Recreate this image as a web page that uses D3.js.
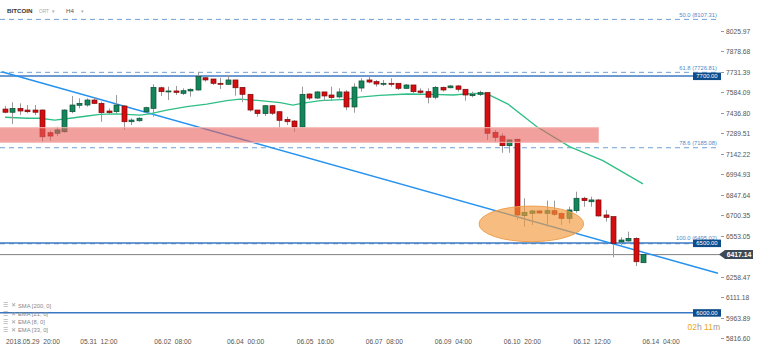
<!DOCTYPE html>
<html>
<head>
<meta charset="utf-8">
<script src="https://cdn.jsdelivr.net/npm/d3@7/dist/d3.min.js"></script>
<style>
body { margin: 0; background: #fff; }
text { font-family: "Liberation Sans", Arial, sans-serif; }
</style>
</head>
<body>
<div id="chart-area"></div>
<script>
// H4 candles, BITCOIN
var open = [7463,7440,7468,7456,7456,7456,7293,7289,7300,7444, 7490,7492,7528,7504,7449,7444,7485,7372,7379,7444,
    7468,7616,7586,7593,7576,7593,7600,7688,7679,7648, 7641,7672,7619,7569,7456,7430,7487,7444,7389,7377,
    7334,7571,7542,7586,7564,7550,7586,7478,7614,7672, 7660,7641,7648,7648,7612,7636,7593,7588,7548,7619,
    7616,7629,7605,7559,7569,7581,7296,7269,7200,7246, 6697,6714,6731,6714,6733,6714,6678,6733,6822,6797,
    6810,6702,6690,6508,6515,6534,6359];
var high = [7485,7512,7504,7492,7492,7461,7308,7336,7461,7557, 7540,7540,7545,7516,7468,7564,7492,7397,7404,7480,
    7641,7624,7624,7629,7612,7612,7731,7703,7679,7688, 7708,7672,7619,7569,7456,7492,7492,7444,7408,7384,
    7624,7576,7593,7586,7624,7612,7600,7648,7684,7696, 7672,7672,7684,7648,7643,7636,7612,7612,7629,7624,
    7636,7636,7605,7588,7595,7581,7313,7289,7246,7246, 6822,6738,6733,6805,6805,6718,6761,6869,6833,6833,
    6815,6738,6690,6542,6582,6542,6421];
var low = [7433,7356,7420,7433,7420,7228,7236,7269,7293,7433, 7468,7480,7499,7372,7428,7433,7313,7348,7372,7437,
    7408,7557,7528,7564,7564,7552,7595,7660,7636,7607, 7636,7559,7512,7444,7408,7413,7420,7329,7348,7300,
    7325,7528,7535,7523,7523,7540,7456,7437,7588,7648, 7624,7629,7624,7600,7607,7576,7571,7504,7533,7588,
    7612,7588,7523,7548,7557,7241,7228,7149,7149,6666, 6618,6630,6714,6618,6695,6630,6642,6718,6761,6761,
    6690,6654,6398,6486,6510,6335,6359];
var close = [7440,7468,7449,7444,7440,7264,7269,7313,7456,7492, 7504,7528,7504,7437,7437,7492,7372,7384,7397,7473,
    7619,7588,7593,7583,7595,7605,7696,7672,7648,7641, 7672,7616,7569,7456,7430,7487,7433,7382,7372,7334,
    7569,7542,7586,7557,7545,7586,7478,7621,7665,7657, 7643,7648,7641,7612,7636,7588,7583,7548,7619,7600,
    7629,7605,7564,7569,7581,7289,7260,7200,7241,6702, 6721,6731,6716,6733,6707,6678,6738,6822,6805,6810,
    6695,6685,6498,6522,6534,6366,6417.14];

// EMA line, read at some candles
var emaIdx = [0,3,4.7,6.7,8.8,11.1,12.8,15.1,18.2,19.5,21.8,24.5,27.2,29.9,31.7,34.4,37.1,38.8,40,42.5,
    46.1,47.8,50.5,54.2,57.7,60.4,63.1,65,67.8,71.7,76.1,80.6,86];
var emaVal = [7404,7397,7397,7384,7397,7413,7425,7428,7420,7428,7456,7480,7499,7523,7535,7523,7509,7492,7504,7523,
    7533,7548,7562,7571,7569,7564,7576,7572,7499,7336,7193,7092,6925];

// axis labels (6405.76 sits under the last price tag)
var priceTicks = ["8025.97","7878.68","7731.39","7584.09","7436.80","7289.51","7142.22","6994.93",
    "6847.64","6700.35","6553.05","6258.47","6111.18","5963.89","5816.60"];
var timeIdx = [0, 10, 20, 29.8, 39.2, 48.5, 57.8, 67.1, 76.5, 85.8];
var timeLabels = ["2018.05.29  20:00","05.31  12:00","06.02  08:00","06.04  00:00","06.05  16:00",
    "06.07  08:00","06.09  04:00","06.10  20:00","06.12  12:00","06.14  04:00"];

// drawings
var levelVals = [7700, 6500, 6000];
var fibNames = ["50.0", "61.8", "78.6", "100.0"];
var fibVals = [8107.31, 7726.81, 7185.08, 6495.02];
var trendIdx = [-0.45, 96.1];
var trendVal = [7731, 6283];
var zoneIdx = [-1, 80];
var zoneVal = [7224, 7329];
var ellipseIdx = [63.9, 78.0];
var ellipseVal = [6510, 6766];
var lastPrice = 6417.14;
var legendItems = ["SMA [200, 0]", "EMA [21, 0]", "EMA [8, 0]", "EMA [33, 0]"];

var width = 760, height = 353, plotRight = 720;

var svg = d3.select("#chart-area")
    .append("svg")
        .attr("width", width)
        .attr("height", height);

var x = d3.scaleLinear().domain([0, 86]).range([5, 643]);
var y = d3.scaleLinear().domain([5816.60, 8025.97]).range([338.2, 30.7]);

var plot = svg.append("g");

// fib dashed lines
plot.selectAll(".fib")
    .data(fibVals)
    .enter().append("line")
        .attr("x1", 0).attr("x2", plotRight)
        .attr("y1", function(d){ return y(d); })
        .attr("y2", function(d){ return y(d); })
        .attr("stroke", "#6fa0d6")
        .attr("stroke-width", 1)
        .attr("stroke-dasharray", "5,4");

// last price line
plot.append("line")
    .attr("x1", 0).attr("x2", plotRight)
    .attr("y1", y(lastPrice)).attr("y2", y(lastPrice))
    .attr("stroke", "#808080")
    .attr("stroke-width", 1);

// level lines
plot.selectAll(".level")
    .data(levelVals)
    .enter().append("line")
        .attr("x1", 0).attr("x2", plotRight)
        .attr("y1", function(d){ return y(d); })
        .attr("y2", function(d){ return y(d); })
        .attr("stroke", "#3b78c2")
        .attr("stroke-width", 1.5);

// trend line
plot.append("line")
    .attr("x1", x(trendIdx[0])).attr("y1", y(trendVal[0]))
    .attr("x2", x(trendIdx[1])).attr("y2", y(trendVal[1]))
    .attr("stroke", "#2592f0")
    .attr("stroke-width", 1.5);

// EMA
var emaLine = d3.line()
    .x(function(d){ return x(d); })
    .y(function(d, i){ return y(emaVal[i]); });
plot.append("path")
    .attr("d", emaLine(emaIdx))
    .attr("fill", "none")
    .attr("stroke", "#2fbf86")
    .attr("stroke-width", 1.3);

// candles
var candles = plot.selectAll(".candle")
    .data(close)
    .enter().append("g");

candles.append("line")
    .attr("x1", function(d, i){ return Math.round(x(i)) + 0.5; })
    .attr("x2", function(d, i){ return Math.round(x(i)) + 0.5; })
    .attr("y1", function(d, i){ return y(high[i]); })
    .attr("y2", function(d, i){ return y(low[i]); })
    .attr("stroke", "#9a9a9a")
    .attr("stroke-width", 1);

candles.append("rect")
    .attr("x", function(d, i){ return Math.round(x(i)) - 2; })
    .attr("width", 5)
    .attr("y", function(d, i){ return y(Math.max(open[i], d)); })
    .attr("height", function(d, i){ return Math.max(1, y(Math.min(open[i], d)) - y(Math.max(open[i], d))); })
    .attr("fill", function(d, i){ return d >= open[i] ? "#14865a" : "#d40d10"; })
    .attr("stroke", function(d, i){ return d >= open[i] ? "#0b4f35" : "#7c0a0a"; })
    .attr("stroke-width", 0.7);

// red zone
plot.append("rect")
    .attr("x", x(zoneIdx[0]))
    .attr("width", x(zoneIdx[1]) - x(zoneIdx[0]))
    .attr("y", y(zoneVal[1]))
    .attr("height", y(zoneVal[0]) - y(zoneVal[1]))
    .attr("fill", "#e8605c")
    .attr("fill-opacity", 0.6)
    .attr("stroke", "#f6b8b4")
    .attr("stroke-width", 1);

// ellipse
plot.append("ellipse")
    .attr("cx", (x(ellipseIdx[0]) + x(ellipseIdx[1])) / 2)
    .attr("cy", (y(ellipseVal[0]) + y(ellipseVal[1])) / 2)
    .attr("rx", (x(ellipseIdx[1]) - x(ellipseIdx[0])) / 2)
    .attr("ry", (y(ellipseVal[0]) - y(ellipseVal[1])) / 2)
    .attr("fill", "#f39a3c")
    .attr("fill-opacity", 0.65)
    .attr("stroke", "#f0a050")
    .attr("stroke-width", 1);

// fib labels
plot.selectAll(".fib-label")
    .data(fibVals)
    .enter().append("text")
        .attr("x", plotRight - 3)
        .attr("y", function(d, i){ return y(d) - (i === 3 ? 3.5 : 2.5); })
        .attr("text-anchor", "end")
        .attr("font-size", "5.8px")
        .attr("fill", "#4f8bc9")
        .text(function(d, i){ return fibNames[i] + " (" + d.toFixed(2) + ")"; });

// price axis
var yAxis = svg.append("g");
yAxis.selectAll(".tick")
    .data(priceTicks)
    .enter().append("g")
    .each(function(d){
        var g = d3.select(this);
        var py = Math.round(y(+d)) + 0.5;
        g.append("line")
            .attr("x1", 721).attr("x2", 724)
            .attr("y1", py).attr("y2", py)
            .attr("stroke", "#999");
        g.append("text")
            .attr("x", 726)
            .attr("y", py)
            .attr("dy", "0.35em")
            .attr("font-size", "6.7px")
            .attr("fill", "#555")
            .text(d);
    });

// level label boxes
var levelTags = svg.selectAll(".level-tag")
    .data(levelVals)
    .enter().append("g");
levelTags.append("rect")
    .attr("x", 693).attr("width", 28)
    .attr("y", function(d){ return y(d) - 3.5; })
    .attr("height", 7.5)
    .attr("fill", "#0f4c8a");
levelTags.append("text")
    .attr("x", 707)
    .attr("y", function(d){ return y(d) + 0.3; })
    .attr("dy", "0.35em")
    .attr("text-anchor", "middle")
    .attr("font-size", "5.9px")
    .attr("fill", "#fff")
    .text(function(d){ return d.toFixed(2); });

// last price tag
var ly = y(lastPrice);
svg.append("path")
    .attr("d", "M719," + ly + " L725," + (ly - 4.5) + " L753," + (ly - 4.5) +
        " L753," + (ly + 4.5) + " L725," + (ly + 4.5) + " Z")
    .attr("fill", "#3d4a55");
svg.append("text")
    .attr("x", 739).attr("y", ly)
    .attr("dy", "0.35em")
    .attr("text-anchor", "middle")
    .attr("font-size", "6.8px")
    .attr("font-weight", "bold")
    .attr("fill", "#fff")
    .text(lastPrice.toFixed(2));

// time axis
svg.selectAll(".time")
    .data(timeLabels)
    .enter().append("text")
        .attr("x", function(d, i){ return x(timeIdx[i]) + 1; })
        .attr("y", 343.5)
        .attr("font-size", "6.7px")
        .attr("fill", "#555")
        .attr("xml:space", "preserve")
        .style("white-space", "pre")
        .text(function(d){ return d; });

// header
var head = svg.append("g");
head.append("text").attr("x", 7).attr("y", 12.6)
    .attr("font-size", "6.2px").attr("font-weight", "bold").attr("fill", "#333")
    .text("BITCOIN");
head.append("text").attr("x", 39).attr("y", 12.6)
    .attr("font-size", "4.8px").attr("fill", "#aaa")
    .text("ORT");
head.append("text").attr("x", 52).attr("y", 12.6)
    .attr("font-size", "5px").attr("fill", "#aaa")
    .text("▾");
head.append("text").attr("x", 66).attr("y", 12.6)
    .attr("font-size", "6.2px").attr("fill", "#555")
    .text("H4");
head.append("text").attr("x", 81).attr("y", 12.6)
    .attr("font-size", "5px").attr("fill", "#aaa")
    .text("▾");

// indicator legend
var legend = svg.selectAll(".legend")
    .data(legendItems)
    .enter().append("g")
        .attr("transform", function(d, i){ return "translate(3," + (305.5 + i * 8.3) + ")"; });
legend.append("text")
    .attr("dy", "0.35em")
    .attr("font-size", "5.5px")
    .attr("fill", "#999")
    .attr("font-family", "DejaVu Sans")
    .text("☰");
legend.append("text")
    .attr("x", 8)
    .attr("dy", "0.35em")
    .attr("font-size", "5.5px")
    .attr("fill", "#999")
    .attr("font-family", "DejaVu Sans")
    .text("✕");
legend.append("text")
    .attr("x", 15)
    .attr("dy", "0.35em")
    .attr("font-size", "5.8px")
    .attr("fill", "#888")
    .text(function(d){ return d; });

// candle countdown
var cd = svg.append("text")
    .attr("x", 720).attr("y", 330)
    .attr("text-anchor", "end")
    .attr("font-size", "8.5px");
cd.append("tspan").attr("fill", "#f5a623").text("02");
cd.append("tspan").attr("fill", "#999").text("h ");
cd.append("tspan").attr("fill", "#f5a623").text("11");
cd.append("tspan").attr("fill", "#999").text("m");
</script>
</body>
</html>
